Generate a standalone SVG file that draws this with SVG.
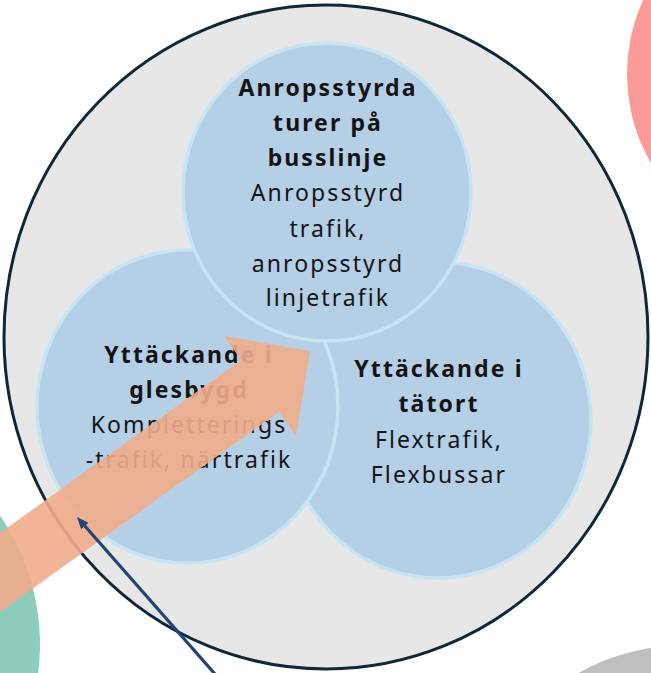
<svg xmlns="http://www.w3.org/2000/svg" width="651" height="673" viewBox="0 0 651 673">
  <style>
    .bubble { fill: #B5CFE6; stroke: #C6E4F4; stroke-width: 3.5; }
    .t { font-family: "Noto Sans", "Open Sans", "Liberation Sans", sans-serif; font-size: 23px; fill: #141414; text-anchor: middle; letter-spacing: 2.1px; }
    .b { font-weight: bold; }
  </style>
  <defs>
    <marker id="ah" viewBox="0 0 12 10" markerWidth="12" markerHeight="10" refX="3" refY="5" orient="auto" markerUnits="userSpaceOnUse">
      <path d="M0,0 L12,5 L0,10 z" fill="#1F4577"/>
    </marker>
  </defs>

  <g id="decor">
    <circle cx="805" cy="74" r="178" fill="#FC9A97"/>
    <circle cx="-190" cy="645" r="230" fill="#8ECDBB"/>
    <circle cx="680" cy="850" r="204" fill="#BFBFBF"/>
  </g>

  <g id="outer">
    <ellipse cx="326" cy="337" rx="322" ry="332" fill="#E7E7E7" stroke="#0E2839" stroke-width="3"/>
  </g>

  <g id="tatort">
    <ellipse class="bubble" cx="438" cy="420" rx="153" ry="158"/>
    <text class="t b" x="439" y="377">Yttäckande i</text>
    <text class="t b" x="439" y="412">tätort</text>
    <text class="t" x="439" y="448">Flextrafik,</text>
    <text class="t" x="439" y="483">Flexbussar</text>
  </g>

  <g id="glesbygd">
    <ellipse class="bubble" cx="187.5" cy="406.5" rx="150.5" ry="156.5"/>
    <text class="t b" x="189" y="363">Yttäckande i</text>
    <text class="t b" x="189" y="398">glesbygd</text>
    <text class="t" x="189" y="433">Kompletterings</text>
    <text class="t" x="189" y="468">-trafik, närtrafik</text>
  </g>

  <g id="busslinje">
    <ellipse class="bubble" cx="327" cy="192" rx="144" ry="149"/>
    <text class="t b" x="328" y="96">Anropsstyrda</text>
    <text class="t b" x="328" y="131">turer på</text>
    <text class="t b" x="328" y="166">busslinje</text>
    <text class="t" x="328" y="201">Anropsstyrd</text>
    <text class="t" x="328" y="237">trafik,</text>
    <text class="t" x="328" y="272">anropsstyrd</text>
    <text class="t" x="328" y="306">linjetrafik</text>
  </g>

  <g id="connectors">
    <polygon points="-30,554.5 241,360 224,336 310,351 296,436 279,412 -30,633.5" fill="#EFAC8B" fill-opacity="0.9"/>
    <line x1="222" y1="682" x2="82.9" y2="523.8" stroke="#1F4577" stroke-width="3.2" marker-end="url(#ah)"/>
  </g>
</svg>
